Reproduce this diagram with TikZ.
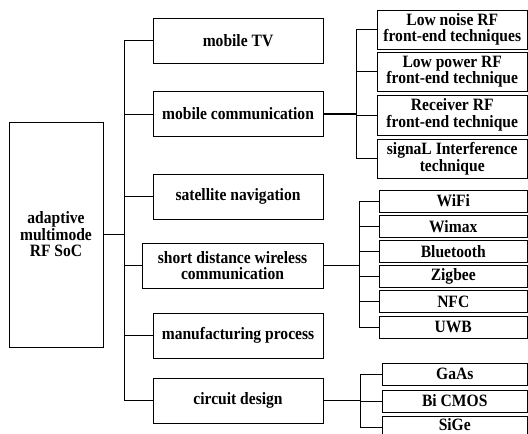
\documentclass[tikz,border=0pt]{standalone}
\usepackage{fontspec}
\setmainfont[FakeStretch=0.9]{Liberation Serif}
\newcommand\fsz{\fontsize{17.3}{16.5}\selectfont\bfseries}
\tikzset{
  box/.style={draw, line width=0.9pt, inner sep=0pt, align=center, font=\fsz},
  lone/.style={box, minimum width=170pt, minimum height=45pt},
  leaf/.style={box, minimum width=150.5pt, minimum height=39pt},
  small/.style={box, minimum height=22pt},
  conn/.style={line width=0.8pt},
  trunk/.style={line width=1.8pt}
}
\begin{document}
\begin{tikzpicture}[x=1pt,y=-1pt]
\useasboundingbox (0,0) rectangle (528,434);
\clip (0,0) rectangle (528,434);
% root
\node[box, minimum width=94pt, minimum height=225pt] (root) at (56,234.5) {adaptive\\multimode\\RF SoC};
% level 1
\node[lone] (tv) at (238,40.5) {mobile TV};
\node[lone] (mc) at (238,114) {mobile communication};
\node[lone] (sn) at (238,196.5) {satellite navigation};
\node[box, minimum width=181pt, minimum height=45pt] (sd) at (232.5,265.5) {short distance wireless\\communication};
\node[lone] (mp) at (238,335.5) {manufacturing process};
\node[lone] (cd) at (238,400.5) {circuit design};
% mobile communication leaves
\node[leaf] (ln) at (452.25,29.5) {Low noise RF\\front-end techniques};
\node[leaf] (lp) at (452.25,71.5) {Low power RF\\front-end technique};
\node[leaf, minimum height=40pt] (rx) at (452.25,115) {Receiver RF\\front-end technique};
\node[leaf] (si) at (452.25,158.5) {signaL Interference\\technique};
% short distance leaves
\node[small, minimum width=148.5pt] (wifi) at (453.25,201) {WiFi};
\node[small, minimum width=148.5pt] (wimax) at (453.25,226.5) {Wimax};
\node[small, minimum width=148.5pt] (bt) at (453.25,251.5) {Bluetooth};
\node[small, minimum width=148.5pt] (zb) at (453.25,276.5) {Zigbee};
\node[small, minimum width=148.5pt] (nfc) at (453.25,301.5) {NFC};
\node[small, minimum width=148.5pt] (uwb) at (453.25,327) {UWB};
% circuit design leaves
\node[small, minimum width=145.5pt] (gaas) at (454.75,374) {GaAs};
\node[small, minimum width=145.5pt] (bic) at (454.75,401) {Bi CMOS};
\node[small, minimum width=145.5pt] (sige) at (454.75,427) {};
\node[font=\fsz, inner sep=0pt, anchor=base] (sigetext) at (454.75,430.5) {SiGe};
% main bus
\coordinate (bus) at (124,234.5);
\draw[trunk] (root.east) -- (bus);
\draw[conn] (bus |- tv.west) -- (bus |- cd.west);
\foreach \n in {tv,mc,sn,sd,mp,cd} \draw[conn] (bus |- \n.west) -- (\n.west);
% mobile communication bus
\coordinate (mbus) at (356,114);
\draw[trunk] (mc.east) -- (mbus);
\draw[conn] (mbus |- ln.west) -- (mbus |- si.west);
\foreach \n in {ln,lp,rx,si} \draw[conn] (mbus |- \n.west) -- (\n.west);
% short distance bus
\coordinate (sbus) at (359,265.5);
\draw[trunk] (sd.east) -- (sbus);
\draw[conn] (sbus |- wifi.west) -- (sbus |- uwb.west);
\foreach \n in {wifi,wimax,bt,zb,nfc,uwb} \draw[conn] (sbus |- \n.west) -- (\n.west);
% circuit design bus
\coordinate (cbus) at (360,400.5);
\draw[trunk] (cd.east) -- (cbus);
\draw[conn] (cbus |- gaas.west) -- (cbus |- sige.west);
\foreach \n in {gaas,bic,sige} \draw[conn] (cbus |- \n.west) -- (\n.west);
\end{tikzpicture}
\end{document}
